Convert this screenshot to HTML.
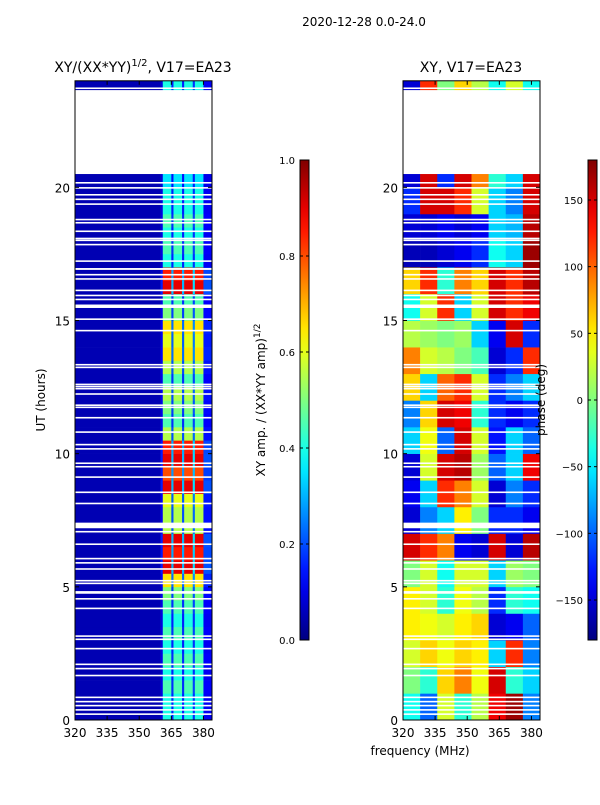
<!DOCTYPE html>
<html><head><meta charset="utf-8"><style>
body{margin:0;background:#fff;}
svg text{font-family:"DejaVu Sans","Liberation Sans",sans-serif;fill:#000;}
</style></head><body>
<svg id="fig" width="600" height="800" xmlns="http://www.w3.org/2000/svg">
<rect width="600" height="800" fill="#fff"/>
<text x="364" y="26" font-size="12" text-anchor="middle">2020-12-28 0.0-24.0</text>
<text x="143" y="72" font-size="14" text-anchor="middle">XY/(XX*YY)<tspan font-size="10" dy="-6">1/2</tspan><tspan dy="6">, V17=EA23</tspan></text>
<text x="471" y="72" font-size="14" text-anchor="middle">XY, V17=EA23</text>
<g id="left"></g>
<g id="right"></g>
<g id="axes"></g>
<text transform="translate(45,400) rotate(-90)" font-size="12" text-anchor="middle">UT (hours)</text>
<text x="420" y="755" font-size="12" text-anchor="middle">frequency (MHz)</text>
<text transform="translate(265,400) rotate(-90)" font-size="12" text-anchor="middle">XY amp. / (XX*YY amp)<tspan font-size="9" dy="-5">1/2</tspan></text>
<text transform="translate(545,400) rotate(-90)" font-size="12" text-anchor="middle">phase (deg)</text>
</svg>
<script>
// ---- data ----
const ampRowHours = [0,0.5,1,1.5,2,2.5,3,3.5,4,4.5,5,5.5,6,6.5,7,7.5,8,8.5,9,9.5,10,10.5,11,11.5,12,12.5,13,13.5,14,14.5,15,15.5,16,16.5,17,17.5,18,18.5,19,19.5,20];
const ampRowLevel = [0.35,0.35,0.4,0.35,0.4,0.35,0.4,0.35,0.4,0.45,0.6,0.85,0.8,0.85,0.5,0.5,0.55,0.85,0.75,0.85,0.8,0.5,0.4,0.45,0.5,0.4,0.5,0.6,0.55,0.6,0.45,0.4,0.85,0.8,0.35,0.4,0.35,0.4,0.35,0.35,0.3];
const ampTopStrip = [23.65,24,0.35];
const bandProfile = [[320,360,0],[360,361,0.12],[361,365,1],[365,366,0.3],[366,370,1],[370,371,0.3],[371,375,1],[375,376,0.35],[376,380,1],[380,384,0.18]];
const phaseRowHours = [0,1,2,3,4,5,6,7,8,9,10,11,12,13,14,15,16,17,18,19,20];
const phaseColMHz = [320,328,336,344,352,360,368,376];
const phaseValues = [
[-40,-100,30,-30,20,140,170,-90],
[0,-30,60,90,40,150,-30,-60],
[30,60,40,60,50,-60,120,-90],
[50,40,30,50,60,-150,-140,-100],
[50,30,-30,40,20,-120,-30,-40],
[0,30,-40,30,30,-60,10,0],
[150,120,90,-140,-150,150,-150,160],
[-150,-90,-60,50,0,-120,-120,-140],
[-140,-60,120,90,30,-150,-90,-120],
[-150,30,150,160,10,-100,-60,140],
[-60,40,-100,150,30,-130,-60,-100],
[-90,60,150,140,-30,-120,-140,-120],
[60,-60,100,120,30,-120,-90,-60],
[90,30,20,0,-20,-150,-120,120],
[20,10,0,10,-60,-140,150,-120],
[-40,30,120,-60,30,150,120,140],
[60,120,-30,90,60,150,120,160],
[-160,-160,-150,-140,-120,-40,-60,170],
[-150,-150,-140,-150,-140,-60,-70,160],
[-120,150,150,120,30,-60,-90,150],
[-150,150,-120,150,90,-30,-60,150]];
const phaseTop = [-150,120,0,60,20,-40,30,-40];
const blankLines = [0.22,0.38,0.54,0.69,0.85,1.67,1.93,2.09,2.68,3.03,3.15,4.19,4.55,5.13,5.23,5.67,5.9,6.06,6.6,7.07,8.13,8.55,9.12,9.51,9.64,10.18,10.34,10.81,11.35,11.74,11.82,12.24,12.44,12.52,12.6,13.24,13.34,14.62,15.05,15.79,15.94,16.13,16.56,16.72,17.23,17.85,18.01,18.08,18.35,18.67,18.79,19.37,19.55,19.72,19.98,20.17,23.72];
const blankBands = [[4.74,4.84],[7.2,7.41],[15.47,15.6],[16.9,16.97],[20.5,23.65]];
const xTicks = [320,335,350,365,380];
const yTicks = [0,5,10,15,20];
const ampTicks = [0,0.2,0.4,0.6,0.8,1.0];
const phaseTicks = [-150,-100,-50,0,50,100,150];

// ---- scales ----
const NS="http://www.w3.org/2000/svg";
const yTop=80.8,yBot=720;
const Y=h=>yBot-(h/24)*(yBot-yTop);
const XL=f=>75+(f-320)/64*137;
const XR=f=>403+(f-320)/64*137;
function jet(v){v=Math.max(0,Math.min(1,v));
 const c=x=>Math.round(255*Math.max(0,Math.min(1,x)));
 const r=c(1.5-Math.abs(4*v-3)),g=c(1.5-Math.abs(4*v-2)),b=c(1.5-Math.abs(4*v-1));
 return `rgb(${r},${g},${b})`;}
function mk(tag,attrs,parent){const e=document.createElementNS(NS,tag);for(const k in attrs)e.setAttribute(k,attrs[k]);parent.appendChild(e);return e;}
const L=document.getElementById('left'),R=document.getElementById('right'),A=document.getElementById('axes');

function ampCell(h0,h1,lvl){
 bandProfile.forEach(b=>{
  const v=0.05+b[2]*lvl;
  const r=mk('rect',{x:XL(b[0]),y:Y(h1),width:XL(b[1])-XL(b[0])+0.3,height:Y(h0)-Y(h1)+0.3,fill:jet(v)},L);
  
  
 });}
ampRowHours.forEach((h,i)=>ampCell(h,Math.min(h+0.5,20.5),ampRowLevel[i]));
ampCell(ampTopStrip[0],ampTopStrip[1],ampTopStrip[2]);

function phaseRow(h0,h1,vals){
 vals.forEach((p,j)=>{
  const f0=phaseColMHz[j],f1=j+1<phaseColMHz.length?phaseColMHz[j+1]:384;
  const r=mk('rect',{x:XR(f0),y:Y(h1),width:XR(f1)-XR(f0)+0.3,height:Y(h0)-Y(h1)+0.3,fill:jet((p+180)/360)},R);
  
  
 });}
phaseRowHours.forEach((h,i)=>phaseRow(h,Math.min(h+1,20.5),phaseValues[i]));
phaseRow(23.65,24,phaseTop);

[[XL,L],[XR,R]].forEach(([X,g])=>{
 blankLines.forEach(h=>{const r=mk('rect',{x:X(320),y:Y(h)-0.8,width:137,height:1.6,fill:'#fff'},g);
  
  });
 blankBands.forEach(b=>{const r=mk('rect',{x:X(320),y:Y(b[1]),width:137,height:Y(b[0])-Y(b[1]),fill:'#fff'},g);
  
  });
});

[[XL,75,'left'],[XR,403,'right']].forEach(([X,x0,nm])=>{
 const f=mk('rect',{x:x0,y:yTop,width:137,height:yBot-yTop,fill:'none',stroke:'#000','stroke-width':1},A);
 
 
 xTicks.forEach(t=>{const x=X(t);
  mk('line',{x1:x,x2:x,y1:yBot,y2:yBot-4,stroke:'#000'},A);
  mk('line',{x1:x,x2:x,y1:yTop,y2:yTop+4,stroke:'#000'},A);
  const tx=mk('text',{x:x,y:yBot+17,'font-size':12,'text-anchor':'middle'},A);tx.textContent=t;
  
  });
 yTicks.forEach(t=>{const y=Y(t);
  mk('line',{x1:x0,x2:x0+4,y1:y,y2:y,stroke:'#000'},A);
  mk('line',{x1:x0+137,x2:x0+133,y1:y,y2:y,stroke:'#000'},A);
  const tx=mk('text',{x:x0-5,y:y+5,'font-size':12,'text-anchor':'end'},A);tx.textContent=t;
  
  });
});

function colorbar(x0,ticks,vmin,vmax,nm,fmt){
 const id='g'+nm;const defs=mk('defs',{},A);
 const lg=mk('linearGradient',{id:id,x1:0,y1:1,x2:0,y2:0},defs);
 for(let i=0;i<=20;i++)mk('stop',{offset:i/20,'stop-color':jet(i/20)},lg);
 const r=mk('rect',{x:x0,y:160,width:9,height:480,fill:`url(#${id})`,stroke:'#000','stroke-width':1},A);
 
 
 ticks.forEach(t=>{const y=640-(t-vmin)/(vmax-vmin)*480;
  mk('line',{x1:x0,x2:x0+3,y1:y,y2:y,stroke:'#000'},A);
  mk('line',{x1:x0+9,x2:x0+6,y1:y,y2:y,stroke:'#000'},A);
  const tx=mk('text',{x:x0-5,y:y+4,'font-size':10,'text-anchor':'end'},A);tx.textContent=fmt(t);
  
  });
}
colorbar(300,ampTicks,0,1,'amp',t=>t.toFixed(1));
colorbar(588,phaseTicks,-180,180,'phase',t=>t<0?'\u2212'+(-t):String(t));
</script>
</body></html>
